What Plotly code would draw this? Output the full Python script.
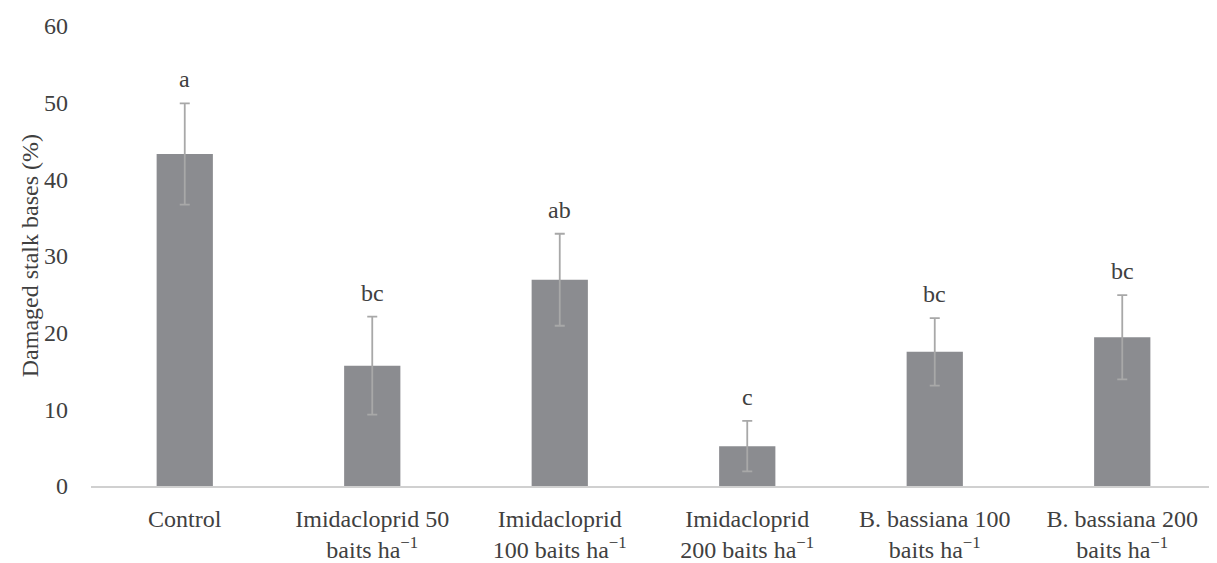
import plotly.graph_objects as go

categories = ["Control", "Imidacloprid 50<br>baits ha<sup>−1</sup>", "Imidacloprid<br>100 baits ha<sup>−1</sup>",
              "Imidacloprid<br>200 baits ha<sup>−1</sup>", "B. bassiana 100<br>baits ha<sup>−1</sup>",
              "B. bassiana 200<br>baits ha<sup>−1</sup>"]
values = [43.3, 15.7, 26.9, 5.2, 17.5, 19.4]
errors = [6.6, 6.4, 6.0, 3.3, 4.4, 5.5]
letters = ["a", "bc", "ab", "c", "bc", "bc"]
y_title = "Damaged stalk bases (%)"

font_fam = "Liberation Serif, Times New Roman, serif"
fig = go.Figure()
fig.add_trace(go.Bar(
    x=categories, y=values,
    marker=dict(color="#8B8C90", line=dict(width=0)),
    error_y=dict(type="data", array=errors, color="#A8A8A8", thickness=1.8, width=5),
    width=0.3,
))
for c, v, e, l in zip(categories, values, errors, letters):
    fig.add_annotation(x=c, y=v + e, text=l, showarrow=False, yanchor="bottom", yshift=9,
                       font=dict(family=font_fam, size=24, color="#404040"))

fig.add_annotation(xref="paper", yref="paper", x=-0.054, y=0.5, text=y_title, textangle=-90,
                   showarrow=False, xanchor="center", yanchor="middle",
                   font=dict(family=font_fam, size=24, color="#404040"))

fig.update_layout(
    width=1217, height=563,
    margin=dict(l=83, r=9, t=18, b=85),
    plot_bgcolor="white", paper_bgcolor="white",
    showlegend=False,
    font=dict(family=font_fam, size=24, color="#404040"),
    xaxis=dict(showline=True, linecolor="#D0D0D0", linewidth=1.5, ticks="", showgrid=False,
               tickfont=dict(size=24), ticklabelstandoff=10, automargin=False),
    yaxis=dict(range=[0, 60], dtick=10, showgrid=False, zeroline=False, showline=False,
               ticks="", ticklabelstandoff=22, tickfont=dict(size=24), automargin=False),
)
fig.write_html("out.html")
